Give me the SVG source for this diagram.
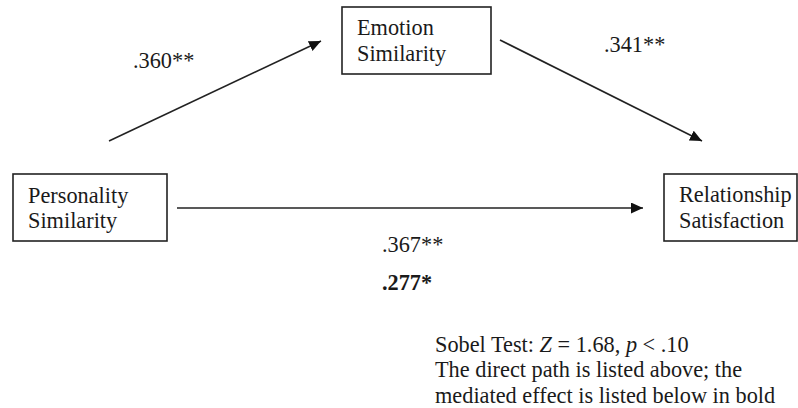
<svg xmlns="http://www.w3.org/2000/svg" width="798" height="408" viewBox="0 0 798 408">
<style>
.box{fill:#fff;stroke:#222;stroke-width:1.6}
.t{font-family:"Liberation Serif","Times New Roman",serif;font-size:22.3px;fill:#1a1a1a}
.e{stroke:#222;stroke-width:1.6;fill:none}
</style>
<defs>
<marker id="ah" markerUnits="userSpaceOnUse" markerWidth="14" markerHeight="12" refX="12" refY="5.5" orient="auto">
<path d="M0,0 L12,5.5 L0,11 Z" fill="#111"/>
</marker>
</defs>
<rect width="798" height="408" fill="#fff"/>
<g id="personality">
<rect class="box" x="13" y="174" width="154" height="67"/>
<text class="t" x="28" y="203">Personality</text>
<text class="t" x="28" y="228">Similarity</text>
</g>
<g id="emotion">
<rect class="box" x="342" y="7" width="149" height="67"/>
<text class="t" x="357" y="35">Emotion</text>
<text class="t" x="357" y="61">Similarity</text>
</g>
<g id="relationship">
<rect class="box" x="664" y="174" width="133" height="67"/>
<text class="t" x="679" y="202">Relationship</text>
<text class="t" x="679" y="228">Satisfaction</text>
</g>
<g id="connectors">
<line class="e" x1="109" y1="141" x2="321" y2="41" marker-end="url(#ah)"/>
<line class="e" x1="500" y1="40" x2="702" y2="141" marker-end="url(#ah)"/>
<line class="e" x1="177" y1="208" x2="643" y2="208" marker-end="url(#ah)"/>
</g>
<g id="labels">
<text class="t" x="133" y="68">.360**</text>
<text class="t" x="604" y="52">.341**</text>
<text class="t" x="382" y="252">.367**</text>
<text class="t" x="382" y="290" font-weight="bold">.277*</text>
<text class="t" x="435" y="352">Sobel Test: <tspan font-style="italic">Z</tspan> = 1.68, <tspan font-style="italic">p</tspan> &lt; .10</text>
<text class="t" x="435" y="377">The direct path is listed above; the</text>
<text class="t" x="435" y="403">mediated effect is listed below in bold</text>
</g>
</svg>
